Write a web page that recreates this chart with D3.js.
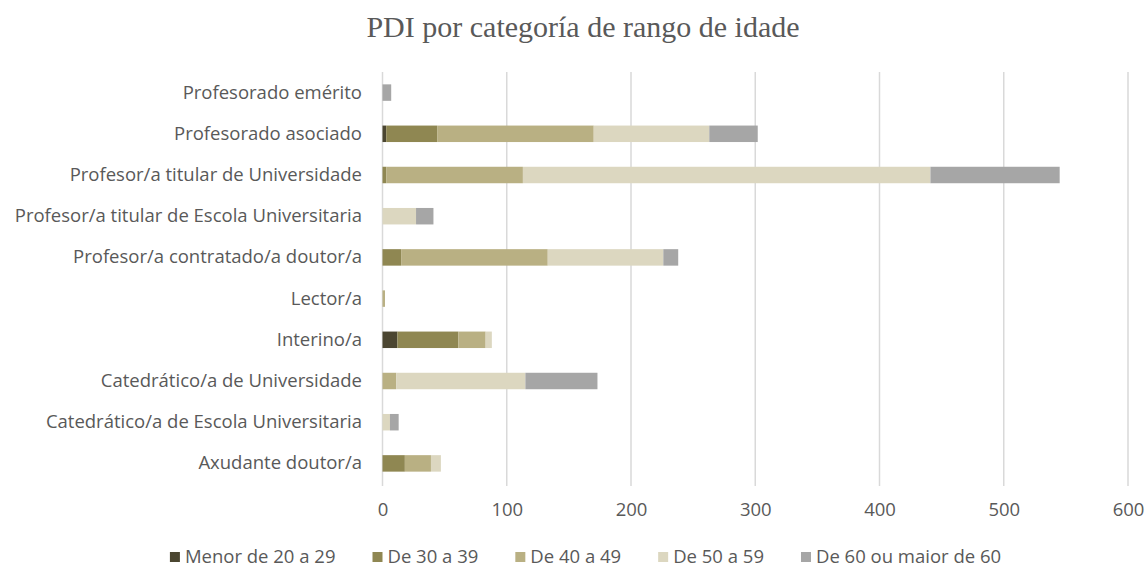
<!DOCTYPE html>
<html>
<head>
<meta charset="utf-8">
<script src="https://cdn.jsdelivr.net/npm/d3@7"></script>
<style>
  body { margin: 0; background: #fff; }
  svg { display: block; }
</style>
</head>
<body>
<div id="chart"></div>
<script>
var width = 1147,
    height = 567;

// categories, top to bottom
var categories = [
  "Profesorado emérito",
  "Profesorado asociado",
  "Profesor/a titular de Universidade",
  "Profesor/a titular de Escola Universitaria",
  "Profesor/a contratado/a doutor/a",
  "Lector/a",
  "Interino/a",
  "Catedrático/a de Universidade",
  "Catedrático/a de Escola Universitaria",
  "Axudante doutor/a"
];

var seriesNames = ["Menor de 20 a 29", "De 30 a 39", "De 40 a 49", "De 50 a 59", "De 60 ou maior de 60"];
var seriesColors = ["#4b4631", "#8f8752", "#b9b083", "#dcd7c0", "#a6a6a6"];

var menor20a29 = [0, 3, 0, 0, 0, 0, 12, 0, 0, 0];
var de30a39    = [0, 41, 3, 0, 15, 0, 49, 0, 0, 18];
var de40a49    = [0, 126, 110, 0, 118, 2, 22, 11, 0, 21];
var de50a59    = [0, 93, 328, 27, 93, 0, 5, 104, 6, 8];
var de60       = [7, 39, 104, 14, 12, 0, 0, 58, 7, 0];

var xTicks = [0, 100, 200, 300, 400, 500, 600];

var seriesValues = [menor20a29, de30a39, de40a49, de50a59, de60];

var rows = categories.map(function(c, i) {
  var row = {category: c};
  seriesNames.forEach(function(s, j) { row[s] = seriesValues[j][i]; });
  return row;
});

var stack = d3.stack().keys(seriesNames);
var layers = stack(rows);

var x = d3.scaleLinear()
    .domain([0, 600])
    .range([382.5, 1128]);

var y = d3.scaleBand()
    .domain(categories)
    .range([72, 484])
    .paddingInner(0.6)
    .paddingOuter(0.3);

var color = d3.scaleOrdinal()
    .domain(seriesNames)
    .range(seriesColors);

var svg = d3.select("#chart").append("svg")
    .attr("width", width)
    .attr("height", height);

svg.append("text")
    .attr("x", 583)
    .attr("y", 37)
    .style("text-anchor", "middle")
    .style("font-family", "'Liberation Serif', serif")
    .style("font-size", "30px")
    .style("fill", "#595959")
    .text("PDI por categoría de rango de idade");

// gridlines
svg.append("g")
    .selectAll("line")
    .data(xTicks)
  .enter().append("line")
    .attr("x1", function(d) { return x(d); })
    .attr("x2", function(d) { return x(d); })
    .attr("y1", 72)
    .attr("y2", 486)
    .style("stroke", "#d9d9d9")
    .style("stroke-width", 1.5);

// bars
svg.append("g")
    .selectAll("g")
    .data(layers)
  .enter().append("g")
    .style("fill", function(d) { return color(d.key); })
  .selectAll("rect")
    .data(function(d) { return d; })
  .enter().append("rect")
    .attr("x", function(d) { return x(d[0]); })
    .attr("width", function(d) { return x(d[1]) - x(d[0]); })
    .attr("y", function(d) { return y(d.data.category); })
    .attr("height", y.bandwidth());

// x axis labels
var xAxis = svg.append("g")
    .attr("transform", "translate(0,495)")
    .call(d3.axisBottom(x).tickValues(xTicks).tickSize(0).tickPadding(8));
xAxis.select(".domain").remove();
xAxis.selectAll("text")
    .style("font-family", "'Open Sans', sans-serif")
    .style("font-size", "18.5px")
    .style("fill", "#595959");

// category labels
var yAxis = svg.append("g")
    .attr("transform", "translate(" + 362 + ",0)")
    .call(d3.axisLeft(y).tickSize(0).tickPadding(0));
yAxis.select(".domain").remove();
yAxis.selectAll("text")
    .style("font-family", "'Open Sans', sans-serif")
    .style("font-size", "18.5px")
    .style("fill", "#595959");

// legend
var legend = svg.append("g")
    .attr("class", "legend");

var items = legend.selectAll("g")
    .data(seriesNames)
  .enter().append("g");

items.append("rect")
    .attr("width", 10)
    .attr("height", 10)
    .attr("y", -5)
    .style("fill", color);

items.append("text")
    .attr("x", 15)
    .attr("dy", ".35em")
    .style("font-family", "'Open Sans', sans-serif")
    .style("font-size", "18.5px")
    .style("fill", "#595959")
    .text(function(d) { return d; });

var gap = 37,
    pos = 0,
    offsets = [];
items.each(function() {
  offsets.push(pos);
  pos += this.getBBox().width + gap;
});
var start = (width - (pos - gap)) / 2 + 12;
items.attr("transform", function(d, i) {
  return "translate(" + (start + offsets[i]) + ",557)";
});
</script>
</body>
</html>
